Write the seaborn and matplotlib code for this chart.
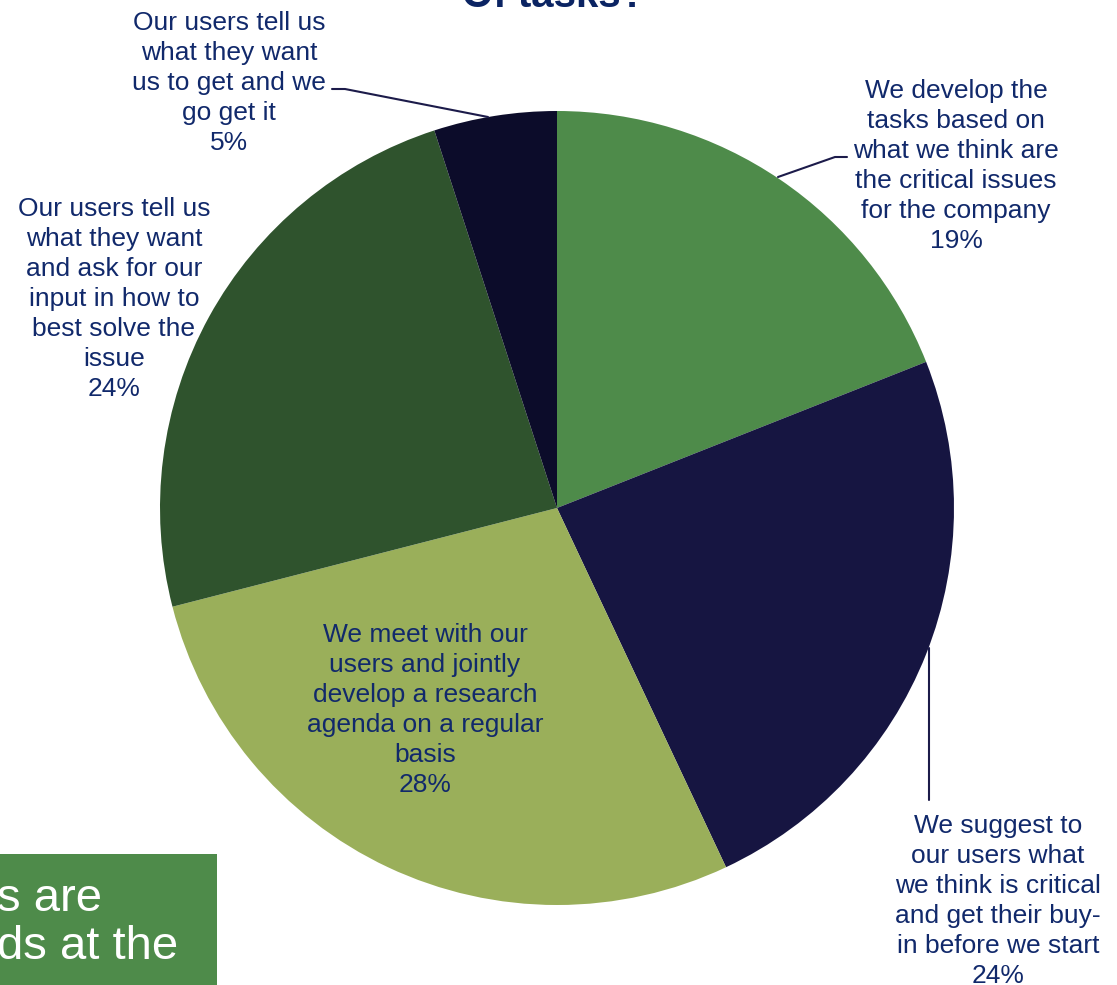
import matplotlib
matplotlib.use("Agg")
import matplotlib.pyplot as plt
import seaborn as sns

W, H = 1117, 985

# Survey answers, clockwise from 12 o'clock
labels = [
    "We develop the\ntasks based on\nwhat we think are\nthe critical issues\nfor the company",
    "We suggest to\nour users what\nwe think is critical\nand get their buy-\nin before we start",
    "We meet with our\nusers and jointly\ndevelop a research\nagenda on a regular\nbasis",
    "Our users tell us\nwhat they want\nand ask for our\ninput in how to\nbest solve the\nissue",
    "Our users tell us\nwhat they want\nus to get and we\ngo get it",
]
shares = [19, 24, 28, 24, 5]
colors = ["#4E8B4A", "#161541", "#9AAF5A", "#2F532D", "#0C0C2A"]

sns.set_theme(style="white")
plt.rcParams["font.family"] = ["Liberation Sans", "DejaVu Sans"]

TEXT = "#11296B"
LINE = "#1C1B4A"


def py(y):
    # pixel row (from top) to data y
    return H - y


fig = plt.figure(figsize=(W / 100, H / 100), dpi=100)
ax = fig.add_axes([0, 0, 1, 1])

cx, cy, r = 557, py(508), 397
ax.pie(shares, colors=colors, startangle=90, counterclock=False,
       center=(cx, cy), radius=r, wedgeprops=dict(linewidth=0))
ax.set_xlim(0, W)
ax.set_ylim(0, H)
ax.set_aspect("equal")
ax.axis("off")

# data labels: (x, y) centre of the text block in pixels
label_pos = [(956, 166), (998, 901), (425, 710), (114, 299), (229, 83)]
for lab, val, (x, y) in zip(labels, shares, label_pos):
    ax.text(x, py(y), f"{lab}\n{val}%", ha="center", va="center",
            fontsize=19, color=TEXT, linespacing=1.31)

# leader lines
ax.plot([778, 835, 847], [py(177), py(157), py(157)], color=LINE, lw=1.5)
ax.plot([929, 929], [py(648), py(800)], color=LINE, lw=1.5)
ax.plot([332, 345, 488], [py(89), py(89), py(117)], color=LINE, lw=1.5)

# title
ax.text(554, py(7), "Of tasks?", ha="center", va="baseline",
        fontsize=29, fontweight="bold", color="#0B2463")

# green call-out box in the lower left
ax.add_patch(plt.Rectangle((0, 0), 217, py(854), color="#4E8B4A", lw=0))
ax.text(-3, py(911), "s are", ha="left", va="baseline", fontsize=34, color="white")
ax.text(-3, py(959), "ds at the", ha="left", va="baseline", fontsize=34, color="white")

fig.savefig("out.png", dpi=100)
